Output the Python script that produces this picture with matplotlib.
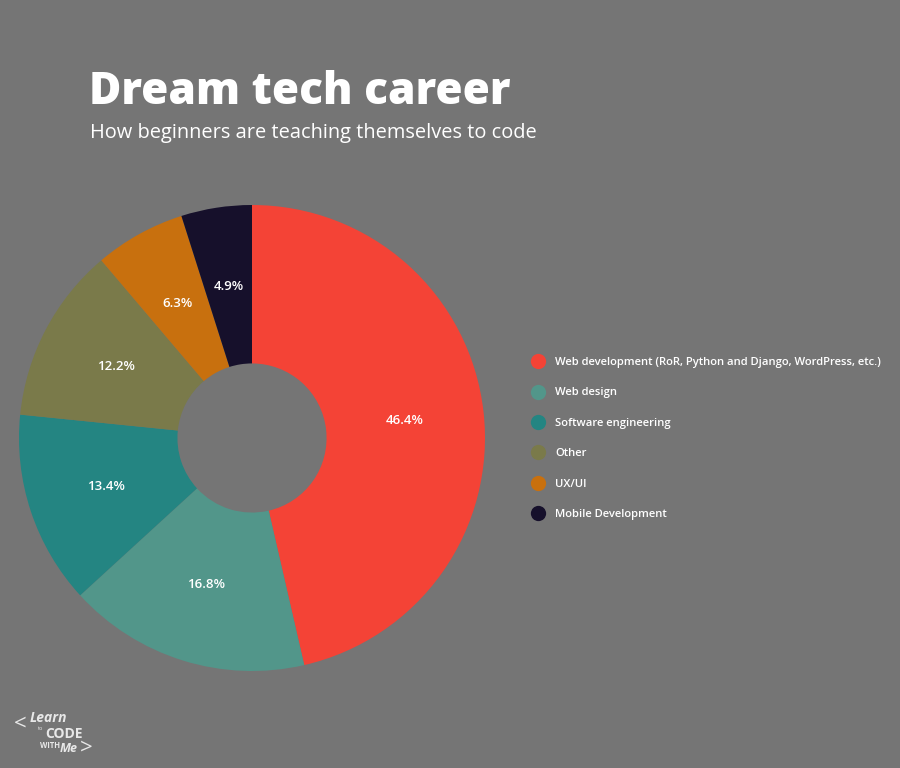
import matplotlib
matplotlib.use("Agg")
import matplotlib.pyplot as plt
from matplotlib.lines import Line2D

# data
careers = ["Web development (RoR, Python and Django, WordPress, etc.)",
           "Web design", "Software engineering", "Other", "UX/UI",
           "Mobile Development"]
shares = [46.4, 16.8, 13.4, 12.2, 6.3, 4.9]
colors = ["#F44336", "#52968A", "#248582", "#7A7A4A", "#C8700E", "#16102B"]

bg = "#757575"
plt.rcParams["font.family"] = ["Open Sans", "DejaVu Sans"]

fig = plt.figure(figsize=(9, 7.68), dpi=100, facecolor=bg)

# pie centre ~(252, 438) px, radius ~233 px
ax = fig.add_axes([19 / 900, (768 - 438 - 233) / 768, 466 / 900, 466 / 768])
ax.set_facecolor(bg)
wedges, texts = ax.pie(shares, colors=colors, startangle=90, counterclock=False,
                       wedgeprops=dict(width=0.68, linewidth=0),
                       labels=[f"{v}%" for v in shares], labeldistance=0.66,
                       textprops=dict(color="white", fontsize=9.5, weight="semibold",
                                      ha="center", va="center"))
ax.set_xlim(-1, 1)
ax.set_ylim(-1, 1)
ax.set_aspect("equal")
ax.axis("off")

fig.text(89 / 900, 1 - 92 / 768, "Dream tech career", color="white",
         fontsize=31.8, weight="heavy", va="center", ha="left")
fig.text(90 / 900, 1 - 133 / 768, "How beginners are teaching themselves to code",
         color="white", fontsize=14.4, va="center", ha="left")

handles = [Line2D([], [], marker="o", linestyle="", markersize=11,
                  markerfacecolor=c, markeredgewidth=0) for c in colors]
leg = fig.legend(handles, careers, loc="upper left",
                 bbox_to_anchor=(521 / 900, 1 - 347 / 768), frameon=False,
                 labelspacing=1.72, handletextpad=0.95, handlelength=1.2,
                 prop=dict(size=8.1, weight="semibold"))
for t in leg.get_texts():
    t.set_color("white")

# small logo bottom-left
logo = "#e8e8e8"
fig.text(14 / 900, 1 - 724 / 768, "<", color=logo, fontsize=16, va="center")
fig.text(30 / 900, 1 - 718 / 768, "Learn", color=logo, fontsize=10,
         style="italic", weight="bold", va="center")
fig.text(38 / 900, 1 - 728 / 768, "to", color=logo, fontsize=4, va="center")
fig.text(45 / 900, 1 - 734 / 768, "CODE", color=logo, fontsize=10,
         weight="bold", va="center")
fig.text(40 / 900, 1 - 746 / 768, "WITH", color=logo, fontsize=5.5,
         weight="bold", va="center")
fig.text(60 / 900, 1 - 748 / 768, "Me", color=logo, fontsize=9,
         style="italic", weight="bold", va="center")
fig.text(80 / 900, 1 - 748 / 768, ">", color=logo, fontsize=16, va="center")

fig.savefig("out.png", dpi=100, facecolor=bg)
